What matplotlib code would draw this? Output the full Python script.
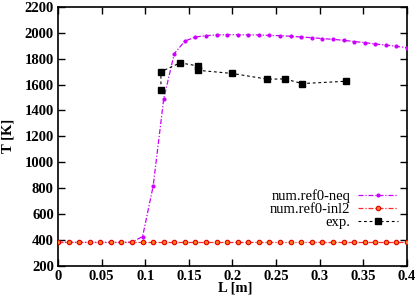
import matplotlib
matplotlib.use('Agg')
import matplotlib.pyplot as plt

plt.rcParams['font.family'] = ['Liberation Serif', 'DejaVu Serif']

# grid of the simulation output points (m)
L_num = [0.0, 0.0121, 0.0242, 0.0364, 0.0485, 0.0606, 0.0727, 0.0848,
         0.0970, 0.1091, 0.1212, 0.1333, 0.1455, 0.1576, 0.1697, 0.1818,
         0.1939, 0.2061, 0.2182, 0.2303, 0.2424, 0.2545, 0.2667, 0.2788,
         0.2909, 0.3030, 0.3152, 0.3273, 0.3394, 0.3515, 0.3636, 0.3758,
         0.3879, 0.4]

T_neq = [380, 380, 380, 380, 380, 380, 380, 382,
         425, 815, 1490, 1840, 1937, 1968, 1979, 1984,
         1986, 1986, 1985, 1984, 1980, 1979, 1974, 1968,
         1963, 1956, 1950, 1943, 1933, 1925, 1914, 1906,
         1896, 1886]

T_inl2 = [380] * 34

L_exp = [0.118, 0.118, 0.14, 0.16, 0.16, 0.20, 0.24, 0.26, 0.28, 0.33]
T_exp = [1560, 1700, 1768, 1745, 1711, 1686, 1642, 1644, 1608, 1626]

fig = plt.figure(figsize=(4.2, 3.06), dpi=100)
ax = fig.add_axes([0.138, 0.132, 0.831, 0.845])

ax.plot(L_num, T_neq, color='#cc00ff', linestyle=(0, (4, 1.5, 1, 1.5)),
        linewidth=0.9, marker='o', markersize=3, markeredgewidth=0,
        label='num.ref0-neq', zorder=3)
ax.plot(L_num, T_inl2, color='#ff2a2a', linestyle=(0, (4, 1.5, 1, 1.5)),
        linewidth=0.9, marker='o', markersize=3.2, markerfacecolor='#ff7a1a',
        markeredgecolor='#e00000', markeredgewidth=0.8,
        label='num.ref0-inl2', zorder=4)
ax.plot(L_exp, T_exp, color='black', linestyle=(0, (2.5, 2.5)),
        linewidth=0.8, marker='s', markersize=4.5,
        label='exp.', zorder=5)

ax.set_xlim(0, 0.4)
ax.set_ylim(200, 2200)
ax.set_xticks([0, 0.05, 0.1, 0.15, 0.2, 0.25, 0.3, 0.35, 0.4])
ax.set_xticklabels(['0', '0.05', '0.1', '0.15', '0.2', '0.25', '0.3', '0.35', '0.4'])
ax.set_yticks(range(200, 2201, 200))
ax.tick_params(direction='in', top=True, right=True, length=5, width=1,
               labelsize=10.5, pad=3)
for lab in ax.get_xticklabels() + ax.get_yticklabels():
    lab.set_fontweight('bold')
for s in ax.spines.values():
    s.set_linewidth(1.2)

ax.set_xlabel('L [m]', fontsize=10.5, fontweight='bold', va='center')
ax.set_ylabel('T [K]', fontsize=10.5, fontweight='bold', va='center')
ax.xaxis.set_label_coords(0.507, -0.088)
ax.yaxis.set_label_coords(-0.142, 0.5)

leg = ax.legend(loc='lower right', bbox_to_anchor=(0.974, 0.14), frameon=False,
                fontsize=10.5, markerfirst=False, handlelength=2.75,
                labelspacing=0.0, handletextpad=0.5, borderaxespad=0,
                borderpad=0)
for t in leg.get_texts():
    t.set_ha('right')

fig.savefig('out.png', dpi=100)
